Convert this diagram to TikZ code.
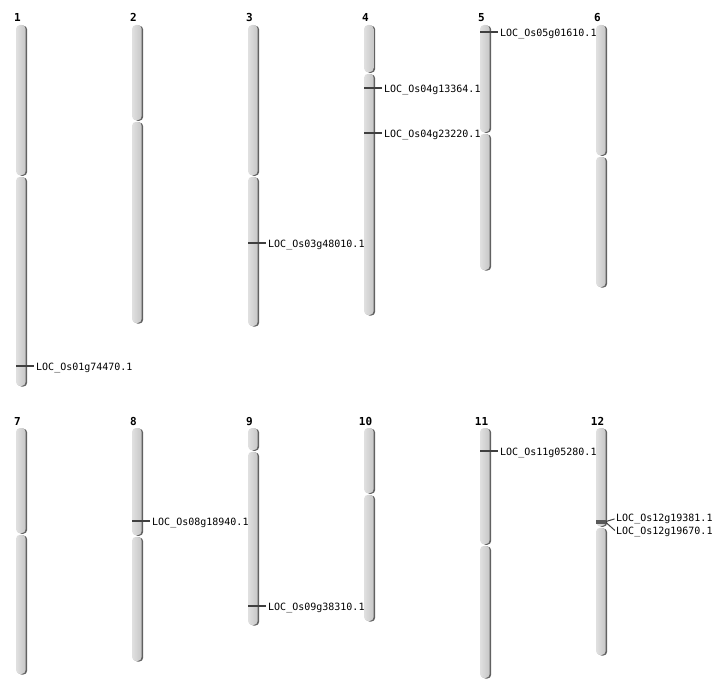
\documentclass[tikz,border=0pt]{standalone}
\usepackage{fontspec}
\setmonofont{DejaVu Sans Mono}
\tikzset{
  chrshadow/.style={fill=black!62},
  chrbody/.style={left color=black!12, right color=black!22},
  markline/.style={draw=black!75, line width=1.2pt},
  loclbl/.style={font=\ttfamily\fontsize{10}{12}\selectfont, inner sep=0pt, anchor=west},
  chrlbl/.style={font=\ttfamily\bfseries\fontsize{11}{12}\selectfont, inner sep=0pt, anchor=base},
}
\newcommand\chrarm[3]{% x left, y1, y2
  \fill[chrshadow, rounded corners=4pt] (#1+1.6,#2+0.6) rectangle (#1+11.2,#3+0.6);
  \shade[chrbody, rounded corners=4pt] (#1,#2) rectangle (#1+9.6,#3);
}
\newcommand\chrom[6]{% name, label, x left, top, cen, bottom
  \chrarm{#3}{#4}{#5-0.8}
  \chrarm{#3}{#5+0.8}{#6}
  \node[chrlbl] (#1) at (#3+1.5,#4-3) {#2};
}
\begin{document}
\begin{tikzpicture}[x=1pt,y=-1pt]
\useasboundingbox (0,0) rectangle (712,700);
% top row
\chrom{c1}{1}{16}{25}{176}{386}
\chrom{c2}{2}{132}{25}{121}{323}
\chrom{c3}{3}{248}{25}{176}{326}
\chrom{c4}{4}{364}{25}{73}{315}
\chrom{c5}{5}{480}{25}{133}{270}
\chrom{c6}{6}{596}{25}{156}{287}
% bottom row
\chrom{c7}{7}{16}{428}{534}{674}
\chrom{c8}{8}{132}{428}{536}{661}
\chrom{c9}{9}{248}{428}{451}{625}
\chrom{c10}{10}{364}{428}{494}{621}
\chrom{c11}{11}{480}{428}{545}{678}
\chrom{c12}{12}{596}{428}{527}{655}
% markers and labels
\coordinate (m1) at (16,366);
\node[loclbl] (t1) at (36,368) {LOC\_Os01g74470.1};
\draw[markline, shorten >=2pt] (m1) -- (m1 -| t1.west);
\coordinate (m3) at (248,243);
\node[loclbl] (t3) at (268,245) {LOC\_Os03g48010.1};
\draw[markline, shorten >=2pt] (m3) -- (m3 -| t3.west);
\coordinate (m4a) at (364,88);
\node[loclbl] (t4a) at (384,90) {LOC\_Os04g13364.1};
\draw[markline, shorten >=2pt] (m4a) -- (m4a -| t4a.west);
\coordinate (m4b) at (364,133);
\node[loclbl] (t4b) at (384,135) {LOC\_Os04g23220.1};
\draw[markline, shorten >=2pt] (m4b) -- (m4b -| t4b.west);
\coordinate (m5) at (480,32);
\node[loclbl] (t5) at (500,34) {LOC\_Os05g01610.1};
\draw[markline, shorten >=2pt] (m5) -- (m5 -| t5.west);
\coordinate (m8) at (132,521);
\node[loclbl] (t8) at (152,523) {LOC\_Os08g18940.1};
\draw[markline, shorten >=2pt] (m8) -- (m8 -| t8.west);
\coordinate (m9) at (248,606);
\node[loclbl] (t9) at (268,608) {LOC\_Os09g38310.1};
\draw[markline, shorten >=2pt] (m9) -- (m9 -| t9.west);
\coordinate (m11) at (480,451);
\node[loclbl] (t11) at (500,453) {LOC\_Os11g05280.1};
\draw[markline, shorten >=2pt] (m11) -- (m11 -| t11.west);
% chromosome 12: two close markers
\fill[black!65] (596,520) rectangle (606,523.5);
\coordinate (m12a) at (606,521.5);
\coordinate (m12b) at (606,522.5);
\node[loclbl] (t12a) at (616,518.5) {LOC\_Os12g19381.1};
\node[loclbl] (t12b) at (616,531.5) {LOC\_Os12g19670.1};
\draw[black!75, line width=1pt, shorten >=1.5pt] (m12a) -- (t12a.west);
\draw[black!75, line width=1pt, shorten >=1.5pt] (m12b) -- (t12b.west);
\end{tikzpicture}
\end{document}
